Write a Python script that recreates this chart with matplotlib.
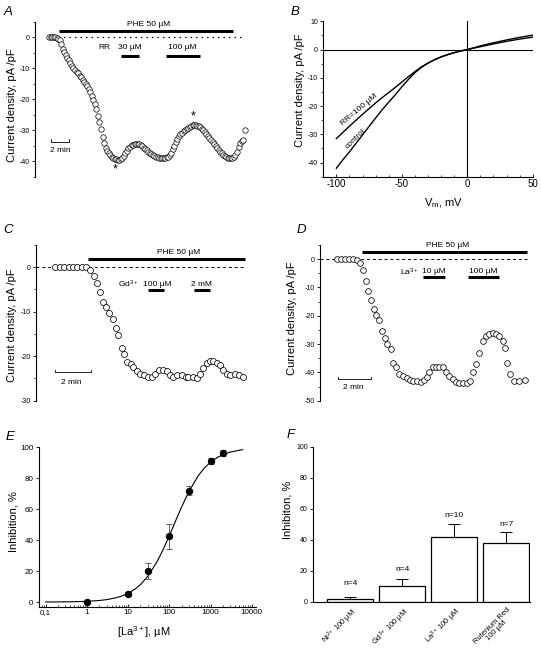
import numpy as np
import matplotlib
matplotlib.use('Agg')
import matplotlib.pyplot as plt
from matplotlib.ticker import MultipleLocator, LogLocator, NullFormatter

plt.rcParams['font.family'] = ['Liberation Sans', 'DejaVu Sans']
plt.rcParams['axes.unicode_minus'] = False
plt.rcParams['mathtext.fontset'] = 'custom'
plt.rcParams['mathtext.rm'] = 'Liberation Sans'
plt.rcParams['mathtext.it'] = 'Liberation Sans:italic'
plt.rcParams['mathtext.default'] = 'regular'

# ---------------- data ----------------
# A: current density time course, one sample every 10 s
a_sample_min = 10 / 60
a_current = [0, 0, 0, 0.1, 0.1, -0.2, -0.6, -1.0, -2.2, -3.8, -4.9, -5.8, -6.7, -7.5, -8.4,
             -9.2, -9.8, -10.5, -11.1, -11.7, -12.4, -13.0, -13.7, -14.3, -15.0, -15.8, -16.8,
             -17.8, -19.0, -20.3, -21.7, -23.1, -25.5, -27.2, -29.5, -32.3, -34.2, -35.6, -36.6,
             -37.5, -38.0, -38.5, -39.0, -39.2, -39.4, -39.6, -39.5, -39.4, -38.9, -38.2, -37.3,
             -36.6, -35.8, -35.4, -34.9, -34.7, -34.5, -34.5, -34.5, -34.6, -34.8, -35.2, -35.6,
             -36.1, -36.5, -37.0, -37.4, -37.8, -38.1, -38.4, -38.6, -38.8, -39.0, -39.1, -39.1,
             -39.1, -39.1, -38.8, -38.5, -38.0, -37.3, -36.2, -35.1, -33.8, -32.7, -32.0, -31.3,
             -30.8, -30.3, -29.9, -29.6, -29.2, -28.9, -28.6, -28.4, -28.3, -28.4, -28.5, -28.7,
             -29.1, -29.5, -29.9, -30.5, -31.2, -31.8, -32.4, -33.1, -33.8, -34.6, -35.2, -35.8,
             -36.4, -36.9, -37.5, -37.9, -38.3, -38.6, -38.9, -38.9, -39.0, -38.9, -38.7, -38.0,
             -37.0, -35.3, -34.0, -33.4, -33.3, -30.0]

# B: I-V relations
b_vm = [-100, -95, -90, -85, -80, -75, -70, -65, -60, -55, -50, -45, -40, -35, -30, -25,
        -20, -15, -10, -5, 0, 10, 20, 30, 40, 50]
b_control = [-42.0, -39.0, -36.2, -33.2, -30.2, -27.2, -24.2, -21.3, -18.6, -16.0, -13.2,
             -10.6, -8.2, -6.3, -4.8, -3.6, -2.6, -1.8, -1.1, -0.5, 0, 1.3, 2.4, 3.4, 4.3, 5.1]
b_rr = [-31.5, -29.3, -27.1, -25.0, -22.9, -20.9, -18.9, -17.0, -15.2, -13.4, -11.5,
        -9.6, -7.8, -6.1, -4.8, -3.6, -2.6, -1.8, -1.1, -0.5, 0, 1.0, 2.0, 2.9, 3.7, 4.4]

# C: Gd3+ experiment (time in min)
c_time = [0, 0.28, 0.52, 0.77, 1.01, 1.25, 1.50, 1.74, 1.96, 2.18, 2.37, 2.52, 2.71, 2.86,
          3.04, 3.23, 3.40, 3.55, 3.74, 3.87, 4.02, 4.24, 4.39, 4.58, 4.76, 4.99, 5.23, 5.42,
          5.60, 5.84, 6.07, 6.26, 6.44, 6.63, 6.85, 7.10, 7.32, 7.47, 7.71, 7.94, 8.12, 8.31,
          8.50, 8.68, 8.87, 9.06, 9.24, 9.43, 9.62, 9.80, 10.08, 10.32, 10.52]
c_current = [0, 0, 0, 0, 0, 0, 0, 0, -0.6, -2.0, -3.5, -5.5, -7.9, -8.9, -10.2, -11.6, -13.6,
             -15.2, -18.1, -19.6, -21.2, -21.8, -22.5, -23.3, -23.9, -24.2, -24.6, -24.6,
             -23.9, -23.0, -23.0, -23.3, -24.2, -24.6, -24.3, -24.2, -24.6, -24.6, -24.6,
             -25.0, -23.9, -22.7, -21.5, -21.1, -21.1, -21.5, -22.0, -23.0, -23.9, -24.3,
             -23.9, -24.2, -24.6]

# D: La3+ experiment (time in min)
d_time = [0, 0.26, 0.50, 0.76, 1.00, 1.20, 1.40, 1.56, 1.74, 1.90, 2.08, 2.22, 2.36, 2.54,
          2.74, 2.90, 3.04, 3.24, 3.40, 3.56, 3.76, 3.96, 4.20, 4.40, 4.60, 4.80, 5.04, 5.24,
          5.40, 5.56, 5.76, 5.96, 6.16, 6.36, 6.56, 6.76, 6.96, 7.16, 7.36, 7.56, 7.80, 8.00,
          8.20, 8.36, 8.56, 8.76, 8.96, 9.16, 9.36, 9.56, 9.76, 9.96, 10.10, 10.24, 10.40,
          10.64, 10.96, 11.30]
d_current = [0, 0, 0, 0, 0, -0.3, -1.3, -3.9, -7.6, -11.2, -14.5, -17.5, -19.9, -21.5, -25.3,
             -27.8, -29.8, -31.9, -36.8, -38.2, -40.4, -41.3, -42.1, -42.7, -42.9, -42.9, -43.3,
             -42.7, -41.5, -39.8, -38.2, -38.0, -38.0, -38.2, -39.8, -41.3, -42.5, -43.3, -43.6,
             -43.6, -43.9, -42.9, -39.8, -37.1, -33.1, -28.8, -27.2, -26.5, -26.0, -26.5, -27.2,
             -28.8, -31.5, -36.6, -40.6, -42.9, -42.9, -42.7]

# E: La3+ concentration-inhibition
e_conc = [1, 10, 30, 100, 300, 1000, 2000]
e_inhib = [0, 5.2, 20, 42.5, 72, 91, 96.5]
e_err = [1, 1.5, 5, 8, 3, 2, 2]
e_fit_conc = [0.1, 0.3, 0.5, 1, 2, 3, 5, 7, 10, 15, 20, 30, 50, 70, 100, 150, 200, 300, 500,
              700, 1000, 1500, 2000, 3000, 6000]
e_fit_inhib = [0.04, 0.13, 0.22, 0.47, 1.0, 1.55, 2.7, 3.9, 5.6, 8.5, 11.3, 16.6, 25.9, 33.6,
               42.8, 53.9, 61.6, 71.5, 81.5, 86.4, 90.4, 93.6, 95.3, 96.9, 98.5]
e_ticks = [0.1, 1, 10, 100, 1000, 10000]
e_ticklabels = ['0,1', '1', '10', '100', '1000', '10000']

# F: inhibition by blockers
f_labels = ['Ni$^{2+}$ 100 µM', 'Gd$^{3+}$ 100 µM', 'La$^{3+}$ 100 µM', 'Rutenium Red\n100 µM']
f_values = [2, 10, 42, 38]
f_err = [1, 4.6, 8, 6.8]
f_n = ['n=4', 'n=4', 'n=10', 'n=7']

# ---------------- layout helpers ----------------
W, H = 541, 651
fig = plt.figure(figsize=(W / 100, H / 100), dpi=100)


def px_axes(l, t, r, b):
    ax = fig.add_axes([l / W, 1 - b / H, (r - l) / W, (b - t) / H])
    ax.patch.set_alpha(0)
    for s in ax.spines.values():
        s.set_linewidth(0.8)
    return ax


def ftext(x, y, s, **kw):
    fig.text(x / W, 1 - y / H, s, **kw)


LBL = 8
TICK = 5
ANN = 6

def style_y(ax, major, minor):
    ax.yaxis.set_major_locator(MultipleLocator(major))
    ax.yaxis.set_minor_locator(MultipleLocator(minor))
    ax.tick_params(axis='y', which='major', direction='out', length=2.5, width=0.6,
                   labelsize=TICK, pad=1.5)
    ax.tick_params(axis='y', which='minor', direction='out', length=1.5, width=0.5)


def scale_bar(ax, x0, x1, y, h):
    ax.plot([x0, x0, x1, x1], [y + h, y, y, y + h], color='k', lw=0.6, clip_on=False)


circ = dict(ls='none', marker='o', mfc='white', mec='black', clip_on=False)

# ---------------- A ----------------
axA = px_axes(35, 21.7, 248, 176.7)
ta = np.arange(len(a_current)) * a_sample_min
axA.set_xlim(-1.53, 21.70)
axA.set_ylim(-45, 5)
for s in ['top', 'right', 'bottom']:
    axA.spines[s].set_visible(False)
axA.set_xticks([])
style_y(axA, 10, 5)
axA.plot([1.01, 21.37], [0, 0], color='k', lw=0.9, ls=(0, (1.2, 3.2)), zorder=1)
axA.plot(ta, a_current, ms=3.9, mew=0.5, zorder=3, **circ)
axA.plot([1.12, 20.09], [2.1, 2.1], color='k', lw=2.2, solid_capstyle='butt')
axA.text(10.9, 4.1, 'PHE 50 µM', fontsize=ANN, ha='center', va='center')
axA.text(6.0, -3.3, 'RR', fontsize=ANN, ha='center', va='center')
axA.text(8.83, -3.3, '30 µM', fontsize=ANN, ha='center', va='center')
axA.plot([7.82, 9.85], [-6.1, -6.1], color='k', lw=2.2, solid_capstyle='butt')
axA.text(14.58, -3.3, '100 µM', fontsize=ANN, ha='center', va='center')
axA.plot([12.76, 16.47], [-6.1, -6.1], color='k', lw=2.2, solid_capstyle='butt')
scale_bar(axA, 0.19, 2.19, -33.7, 0.7)
axA.text(1.2, -36.6, '2 min', fontsize=ANN, ha='center', va='center')
axA.text(7.2, -42.6, '*', fontsize=9, ha='center', va='center')
axA.text(15.74, -25.5, '*', fontsize=9, ha='center', va='center')
ftext(11.7, 105, 'Current density, pA /pF', rotation=90, ha='center', va='center', fontsize=LBL)
ftext(8.3, 11.7, 'A', fontsize=9.5, style='italic', ha='center', va='center')

# ---------------- B ----------------
axB = px_axes(323.3, 21.3, 532.7, 176.7)
axB.set_xlim(-110, 50)
axB.set_ylim(-45, 10)
axB.spines['top'].set_visible(False)
axB.spines['right'].set_visible(False)
axB.axhline(0, color='k', lw=0.8)
axB.axvline(0, color='k', lw=0.8)
axB.plot(b_vm, b_control, color='k', lw=1.0)
axB.plot(b_vm, b_rr, color='k', lw=1.0)
style_y(axB, 10, 5)
axB.xaxis.set_major_locator(MultipleLocator(50))
axB.xaxis.set_minor_locator(MultipleLocator(10))
axB.tick_params(axis='x', which='major', direction='in', length=2.5, width=0.6,
                labelsize=7, pad=2)
axB.tick_params(axis='x', which='minor', direction='in', length=1.5, width=0.5)
axB.text(-82.5, -21.2, 'RR=100 µM', fontsize=ANN, rotation=40, ha='center', va='center')
axB.text(-85.5, -31.6, 'control', fontsize=ANN, rotation=45, ha='center', va='center')
ftext(300, 90, 'Current density, pA /pF', rotation=90, ha='center', va='center', fontsize=LBL)
ftext(443.3, 202.7, 'V$_m$, mV', ha='center', va='center', fontsize=LBL)
ftext(295, 11.7, 'B', fontsize=9.5, style='italic', ha='center', va='center')

# ---------------- C ----------------
axC = px_axes(36, 245, 248, 400.7)
axC.set_xlim(-1.064, 10.81)
axC.set_ylim(-30, 5)
for s in ['top', 'right', 'bottom']:
    axC.spines[s].set_visible(False)
axC.set_xticks([])
style_y(axC, 10, 5)
axC.plot([-1.06, 10.64], [0, 0], color='k', lw=0.7, ls=(0, (3, 3)), zorder=1)
axC.plot(c_time, c_current, ms=4.3, mew=0.55, zorder=3, **circ)
axC.plot([1.87, 10.64], [1.9, 1.9], color='k', lw=2.2, solid_capstyle='butt')
axC.text(6.91, 3.4, 'PHE 50 µM', fontsize=ANN, ha='center', va='center')
axC.text(4.11, -3.8, 'Gd$^{3+}$', fontsize=ANN, ha='center', va='center')
axC.text(5.73, -3.8, '100 µM', fontsize=ANN, ha='center', va='center')
axC.plot([5.23, 6.11], [-5.1, -5.1], color='k', lw=2.2, solid_capstyle='butt')
axC.text(8.22, -3.8, '2 mM', fontsize=ANN, ha='center', va='center')
axC.plot([7.79, 8.68], [-5.1, -5.1], color='k', lw=2.2, solid_capstyle='butt')
scale_bar(axC, 0, 2.0, -23.6, 0.5)
axC.text(0.94, -26.0, '2 min', fontsize=ANN, ha='center', va='center')
ftext(11.7, 325, 'Current density, pA /pF', rotation=90, ha='center', va='center', fontsize=LBL)
ftext(8.3, 230, 'C', fontsize=9.5, style='italic', ha='center', va='center')

# ---------------- D ----------------
axD = px_axes(320, 245, 530, 400.7)
axD.set_xlim(-1.0, 11.6)
axD.set_ylim(-50, 5)
for s in ['top', 'right', 'bottom']:
    axD.spines[s].set_visible(False)
axD.set_xticks([])
style_y(axD, 10, 5)
axD.plot([-1.0, 11.4], [0, 0], color='k', lw=0.7, ls=(0, (3, 3)), zorder=1)
axD.plot(d_time, d_current, ms=4.1, mew=0.55, zorder=3, **circ)
axD.plot([1.5, 11.43], [2.4, 2.4], color='k', lw=2.2, solid_capstyle='butt')
axD.text(6.63, 4.7, 'PHE 50 µM', fontsize=ANN, ha='center', va='center')
axD.text(4.36, -4.5, 'La$^{3+}$', fontsize=ANN, ha='center', va='center')
axD.text(5.84, -4.5, '10 µM', fontsize=ANN, ha='center', va='center')
axD.plot([5.2, 6.5], [-6.2, -6.2], color='k', lw=2.2, solid_capstyle='butt')
axD.text(8.8, -4.5, '100 µM', fontsize=ANN, ha='center', va='center')
axD.plot([7.86, 9.75], [-6.2, -6.2], color='k', lw=2.2, solid_capstyle='butt')
scale_bar(axD, 0.06, 2.06, -42.4, 0.8)
axD.text(1.0, -45.4, '2 min', fontsize=ANN, ha='center', va='center')
ftext(291.7, 318.3, 'Current density, pA /pF', rotation=90, ha='center', va='center', fontsize=LBL)
ftext(301.7, 230, 'D', fontsize=9.5, style='italic', ha='center', va='center')

# ---------------- E ----------------
axE = px_axes(39, 447.3, 256, 606.7)
axE.set_xscale('log')
axE.set_xlim(0.069, 12700)
axE.set_ylim(-3, 100)
axE.spines['top'].set_visible(False)
axE.spines['right'].set_visible(False)
axE.plot(e_fit_conc, e_fit_inhib, color='k', lw=0.8)
axE.errorbar(e_conc, e_inhib, yerr=e_err, fmt='o', color='k', ms=4.3, ecolor='#444444',
             elinewidth=0.6, capsize=2.4, capthick=0.6)
axE.set_xticks(e_ticks)
axE.set_xticklabels(e_ticklabels)
axE.xaxis.set_minor_locator(LogLocator(base=10, subs=np.arange(2, 10)))
axE.xaxis.set_minor_formatter(NullFormatter())
axE.tick_params(axis='x', which='major', direction='in', length=2.5, width=0.6,
                labelsize=5.8, pad=2)
axE.tick_params(axis='x', which='minor', direction='in', length=1.5, width=0.5)
axE.yaxis.set_major_locator(MultipleLocator(20))
axE.tick_params(axis='y', which='major', direction='out', length=2.5, width=0.6,
                labelsize=5.8, pad=1.5)
ftext(13.3, 521.7, 'Inhibition, %', rotation=90, ha='center', va='center', fontsize=LBL)
ftext(143.3, 631.7, '[La$^{3+}$], µM', ha='center', va='center', fontsize=LBL)
ftext(10, 436.7, 'E', fontsize=9.5, style='italic', ha='center', va='center')

# ---------------- F ----------------
axF = px_axes(313.3, 446.7, 530, 602)
xf = np.arange(len(f_values))
axF.set_xlim(-0.71, 3.46)
axF.set_ylim(0, 100)
axF.spines['top'].set_visible(False)
axF.spines['right'].set_visible(False)
axF.bar(xf, f_values, width=0.89, color='white', edgecolor='k', linewidth=0.9, zorder=2)
axF.errorbar(xf, f_values, yerr=[np.zeros(len(f_err)), f_err], fmt='none', ecolor='k',
             elinewidth=0.7, capsize=4, capthick=0.7, zorder=3)
n_label_y = [11.6, 21, 55.6, 50]
for xi, yi, s in zip(xf, n_label_y, f_n):
    axF.text(xi, yi, s, fontsize=ANN, ha='center', va='center')
axF.yaxis.set_major_locator(MultipleLocator(20))
axF.tick_params(axis='y', which='major', direction='out', length=2.5, width=0.6,
                labelsize=TICK, pad=1.5)
axF.set_xticks(xf)
axF.set_xticklabels(f_labels, rotation=45, ha='right', va='top', rotation_mode='anchor',
                    fontsize=5.4, multialignment='center', linespacing=1.0)
axF.tick_params(axis='x', length=0, pad=3)
ftext(287.3, 510, 'Inhibiton, %', rotation=90, ha='center', va='center', fontsize=LBL)
ftext(290.7, 435, 'F', fontsize=9.5, style='italic', ha='center', va='center')

fig.savefig('out.png', dpi=100)
